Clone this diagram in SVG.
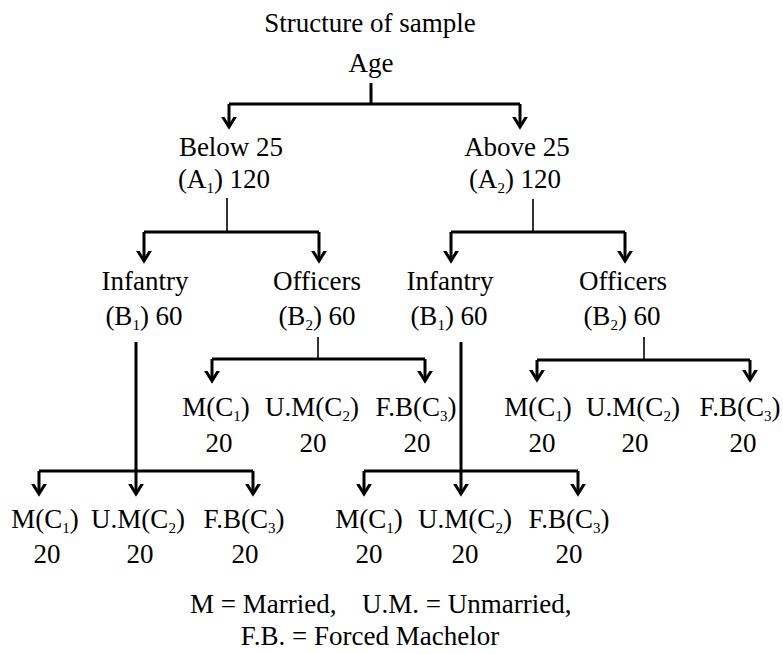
<svg xmlns="http://www.w3.org/2000/svg" width="783" height="654" viewBox="0 0 783 654" font-family="'Liberation Serif', 'Times New Roman', Tinos, 'DejaVu Serif', serif">
<style>
text{font-size:27px;fill:#000;text-anchor:middle}
.s{font-size:15px}
.st{text-anchor:start}
.thick{stroke:#000;stroke-width:3;fill:none}
.thin{stroke:#000;stroke-width:1.6;fill:none}
</style>
<defs>
<marker id="arr" viewBox="-10 -10 20 20" markerWidth="20" markerHeight="20" markerUnits="userSpaceOnUse" refX="0" refY="0" orient="auto">
<path d="M-13,-8 L0,0 L-13,8" fill="none" stroke="#000" stroke-width="3" stroke-linejoin="miter"/>
</marker>
</defs>
<rect width="783" height="654" fill="#fff"/>
<g id="connectors">
<path class="thick" d="M371,83 V104 M229,104 H520"/>
<path class="thick" marker-end="url(#arr)" d="M229,104 V127"/>
<path class="thick" marker-end="url(#arr)" d="M520,104 V127"/>
<path class="thin" d="M227,198 V232"/>
<path class="thick" d="M144,232 H319"/>
<path class="thick" marker-end="url(#arr)" d="M144,232 V261"/>
<path class="thick" marker-end="url(#arr)" d="M319,232 V261"/>
<path class="thin" d="M533,199 V232"/>
<path class="thick" d="M451,232 H625"/>
<path class="thick" marker-end="url(#arr)" d="M451,232 V261"/>
<path class="thick" marker-end="url(#arr)" d="M625,232 V261"/>
<path class="thin" d="M318,337 V359"/>
<path class="thick" d="M212,359 H425"/>
<path class="thick" marker-end="url(#arr)" d="M212,359 V381"/>
<path class="thick" marker-end="url(#arr)" d="M425,359 V381"/>
<path class="thin" d="M644,337 V360"/>
<path class="thick" d="M537,360 H750"/>
<path class="thick" marker-end="url(#arr)" d="M537,360 V380"/>
<path class="thick" marker-end="url(#arr)" d="M750,360 V380"/>
<path class="thick" d="M39,471 H253"/>
<path class="thick" marker-end="url(#arr)" d="M136,342 V494"/>
<path class="thick" marker-end="url(#arr)" d="M39,471 V494"/>
<path class="thick" marker-end="url(#arr)" d="M253,471 V494"/>
<path class="thick" d="M364,471 H578"/>
<path class="thick" marker-end="url(#arr)" d="M461,342 V494"/>
<path class="thick" marker-end="url(#arr)" d="M364,471 V494"/>
<path class="thick" marker-end="url(#arr)" d="M578,471 V494"/>
</g>
<g id="title"><text x="370" y="32">Structure of sample</text></g>
<g id="age"><text x="371" y="72">Age</text></g>
<g id="a1"><text x="231" y="156">Below 25</text><text x="224" y="188">(A<tspan class="s" dy="5">1</tspan><tspan dy="-5">) 120</tspan></text></g>
<g id="a2"><text x="517" y="156">Above 25</text><text x="515" y="188">(A<tspan class="s" dy="5">2</tspan><tspan dy="-5">) 120</tspan></text></g>
<g id="b1-left"><text x="145" y="290">Infantry</text><text x="144" y="325">(B<tspan class="s" dy="5">1</tspan><tspan dy="-5">) 60</tspan></text></g>
<g id="b2-left"><text x="317" y="290">Officers</text><text x="317" y="325">(B<tspan class="s" dy="5">2</tspan><tspan dy="-5">) 60</tspan></text></g>
<g id="b1-right"><text x="450" y="290">Infantry</text><text x="449" y="325">(B<tspan class="s" dy="5">1</tspan><tspan dy="-5">) 60</tspan></text></g>
<g id="b2-right"><text x="623" y="290">Officers</text><text x="622" y="325">(B<tspan class="s" dy="5">2</tspan><tspan dy="-5">) 60</tspan></text></g>
<g id="c-b2left-1"><text x="216" y="416">M(C<tspan class="s" dy="5">1</tspan><tspan dy="-5">)</tspan></text><text x="219" y="452">20</text></g>
<g id="c-b2left-2"><text x="312" y="416">U.M(C<tspan class="s" dy="5">2</tspan><tspan dy="-5">)</tspan></text><text x="313" y="452">20</text></g>
<g id="c-b2left-3"><text x="416" y="416">F.B(C<tspan class="s" dy="5">3</tspan><tspan dy="-5">)</tspan></text><text x="417" y="452">20</text></g>
<g id="c-b2right-1"><text x="538" y="416">M(C<tspan class="s" dy="5">1</tspan><tspan dy="-5">)</tspan></text><text x="542" y="452">20</text></g>
<g id="c-b2right-2"><text x="633" y="416">U.M(C<tspan class="s" dy="5">2</tspan><tspan dy="-5">)</tspan></text><text x="635" y="452">20</text></g>
<g id="c-b2right-3"><text x="740" y="416">F.B(C<tspan class="s" dy="5">3</tspan><tspan dy="-5">)</tspan></text><text x="743" y="452">20</text></g>
<g id="c-b1left-1"><text x="45" y="528">M(C<tspan class="s" dy="5">1</tspan><tspan dy="-5">)</tspan></text><text x="47" y="563">20</text></g>
<g id="c-b1left-2"><text x="138" y="528">U.M(C<tspan class="s" dy="5">2</tspan><tspan dy="-5">)</tspan></text><text x="140" y="563">20</text></g>
<g id="c-b1left-3"><text x="244" y="528">F.B(C<tspan class="s" dy="5">3</tspan><tspan dy="-5">)</tspan></text><text x="245" y="563">20</text></g>
<g id="c-b1right-1"><text x="369" y="528">M(C<tspan class="s" dy="5">1</tspan><tspan dy="-5">)</tspan></text><text x="369" y="563">20</text></g>
<g id="c-b1right-2"><text x="465" y="528">U.M(C<tspan class="s" dy="5">2</tspan><tspan dy="-5">)</tspan></text><text x="465" y="563">20</text></g>
<g id="c-b1right-3"><text x="569" y="528">F.B(C<tspan class="s" dy="5">3</tspan><tspan dy="-5">)</tspan></text><text x="569" y="563">20</text></g>
<g id="legend">
<text class="st" x="190" y="613">M = Married,</text>
<text class="st" x="362" y="613">U.M. = Unmarried,</text>
<text x="370" y="645">F.B. = Forced Machelor</text>
</g>
</svg>
